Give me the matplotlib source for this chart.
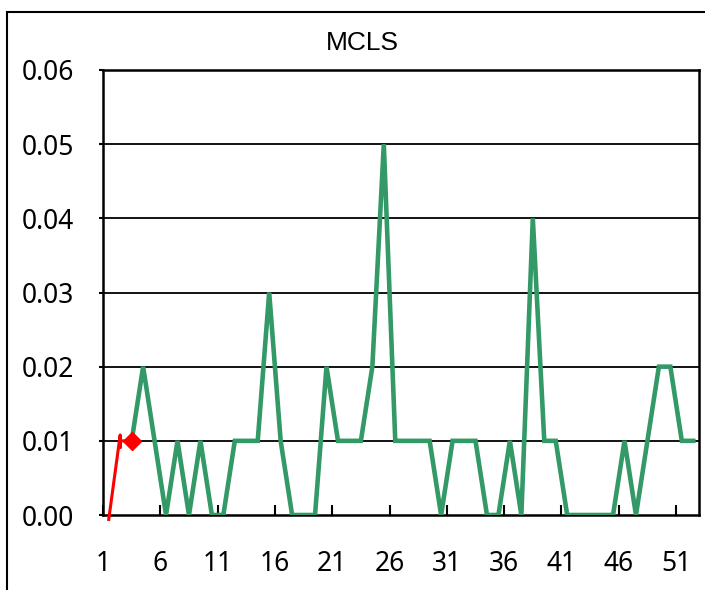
import matplotlib
matplotlib.use("Agg")
import matplotlib.pyplot as plt
from matplotlib.patches import Rectangle

# data
green_x = list(range(3, 53))
green_y = [0.01, 0.02, 0.01, 0.00, 0.01, 0.00, 0.01, 0.00, 0.00, 0.01,
           0.01, 0.01, 0.03, 0.01, 0.00, 0.00, 0.00, 0.02, 0.01, 0.01,
           0.01, 0.02, 0.05, 0.01, 0.01, 0.01, 0.01, 0.00, 0.01, 0.01,
           0.01, 0.00, 0.00, 0.01, 0.00, 0.04, 0.01, 0.01, 0.00, 0.00,
           0.00, 0.00, 0.00, 0.01, 0.00, 0.01, 0.02, 0.02, 0.01, 0.01]
red_x = [1, 2, 2, 2, 3]
red_y = [-0.0006, 0.0108, 0.0091, 0.0100, 0.0100]
x_ticklabels = ['1', '6', '11', '16', '21', '26', '31', '36', '41', '46', '51']
y_ticks = [0.00, 0.01, 0.02, 0.03, 0.04, 0.05, 0.06]

plt.rcParams['font.family'] = ['Noto Sans', 'DejaVu Sans']

fig = plt.figure(figsize=(7.05, 5.90), dpi=100)
ax = fig.add_axes([103 / 705, 75 / 590, 596 / 705, 445 / 590])

# outer chart frame
fig.patches.append(Rectangle((7 / 705, -0.1), 1.2, 0.1 + 578 / 590,
                             transform=fig.transFigure, fill=False,
                             edgecolor='black', linewidth=1.5))

for y in y_ticks[1:]:
    ax.axhline(y, color='black', linewidth=1.3, zorder=1)

ax.plot(green_x, green_y, color='#339966', linewidth=3.3, zorder=3,
        solid_joinstyle='miter')
ax.plot(red_x, red_y, color='#ff0000', linewidth=2.2, zorder=4,
        clip_on=False)
ax.plot(red_x[-1], red_y[-1], marker='D', color='#ff0000', markersize=9,
        zorder=5)

ax.set_xlim(0.5, 52.5)
ax.set_ylim(0, 0.06)
ax.set_xticks([0.5 + 5 * i for i in range(len(x_ticklabels))])
ax.set_xticklabels(x_ticklabels)
ax.set_yticks(y_ticks)
ax.set_yticklabels(['%.2f' % v for v in y_ticks])

ax.tick_params(axis='x', direction='in', length=7, width=1.5, pad=25,
               labelsize=19)
ax.tick_params(axis='y', direction='out', length=3, width=1.5, pad=18,
               labelsize=19)
for s in ax.spines.values():
    s.set_linewidth(1.8)

fig.text(362 / 705, 1 - 43 / 590, 'MCLS', ha='center', va='center',
         fontsize=19, family=['Liberation Sans', 'DejaVu Sans'])

fig.savefig('out.png', dpi=100)
